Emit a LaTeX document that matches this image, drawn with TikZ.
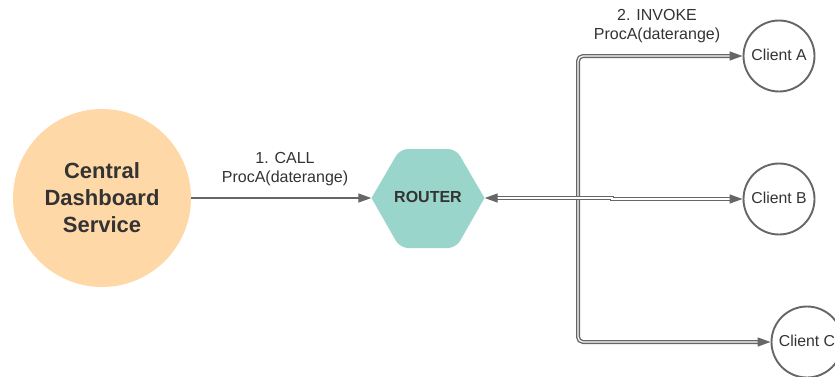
\documentclass[tikz,border=0pt]{standalone}
\usepackage{fontspec}
\setmainfont{Liberation Sans}
\usetikzlibrary{arrows.meta,shapes.geometric}
\definecolor{linegray}{HTML}{666666}
\definecolor{txt}{HTML}{333333}
\definecolor{peach}{HTML}{FFD8A8}
\definecolor{teal}{HTML}{99D5CA}
\tikzset{
  client/.style={circle,draw=linegray,line width=1.9pt,fill=white,minimum size=71pt,inner sep=0pt,text=txt,font=\fontsize{15.8}{18}\selectfont},
  lbl/.style={align=center,text=txt,font=\fontsize{16}{19}\selectfont},
  single/.style={draw=linegray,line width=1.3pt,-{Triangle[length=13pt,width=9pt]}},
  dbl/.style={draw=linegray,line width=1.4pt,double=white,double distance=1.2pt,rounded corners=5pt},
  dtip/.style={-{Triangle[length=13pt,width=9pt,color=linegray]}},
  dtipr/.style={{Triangle[length=13pt,width=9pt,color=linegray]}-}
}
\begin{document}
\begin{tikzpicture}[x=1pt,y=-1pt]
\useasboundingbox (0,0) rectangle (835,376);
\clip (0,0) rectangle (835,376);
\node[circle,fill=peach,minimum size=178pt,inner sep=0pt,align=center,text=txt,font=\bfseries\fontsize{22}{27}\selectfont] (central) at (102,198) {Central\\Dashboard\\Service};
\node[regular polygon,regular polygon sides=6,minimum size=113pt,inner sep=0pt] (routershape) at (428,198) {};
\fill[teal] (371.5,198) [rounded corners=8pt] -- (400,149) -- (456,149) [sharp corners] -- (484.5,198) [rounded corners=8pt] -- (456,248) -- (400,248) [sharp corners] -- cycle;
\node[text=txt,font=\bfseries\fontsize{16}{19}\selectfont] (router) at (428,197) {ROUTER};
\node[client] (a) at (779,56) {\raisebox{3pt}{Client A}};
\node[client] (b) at (779,199) {\raisebox{3pt}{Client B}};
\node[client] (c) at (807,342) {\raisebox{3pt}{Client C}};
\coordinate (j) at (578,198);
\coordinate (jog) at (612,198);
\coordinate (ta) at (578,56);
\coordinate (tc) at (578,342);
\draw[single] (central.east) -- (routershape.west);
\draw[dbl,dtip] (j) -- (ta) -- (a.west);
\draw[dbl,dtip] (j) -- (tc) -- (c.west);
\draw[dbl,dtipr,sharp corners] (routershape.east) -- (j);
\draw[dbl,dtip,sharp corners] (j) -- (jog) -- ++(0,1) -- (b.west);
\node[lbl] (l1) at (285,169.5) {1. CALL\\ProcA(daterange)};
\node[lbl] (l2) at (657,26.5) {2. INVOKE\\ProcA(daterange)};
\end{tikzpicture}
\end{document}
